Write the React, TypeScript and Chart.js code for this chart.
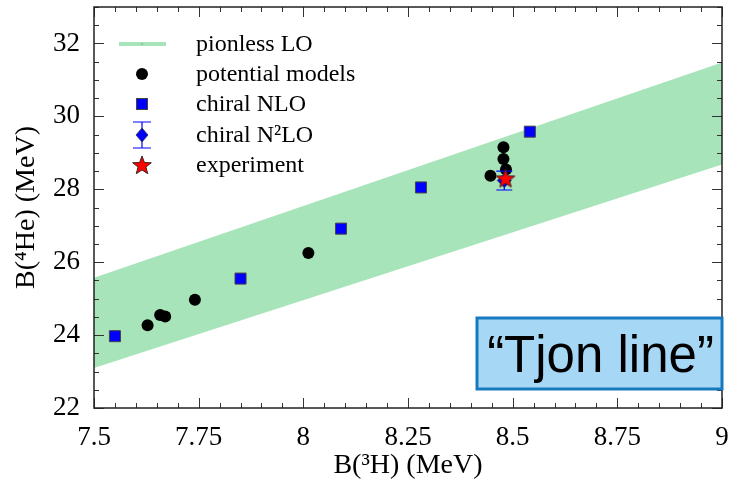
import { useEffect, useRef } from "react";
import { Chart, registerables } from "chart.js";

Chart.register(...registerables);

// ---- Data ----
const xTickValues = [7.5, 7.75, 8, 8.25, 8.5, 8.75, 9];
const xTickLabels = ["7.5", "7.75", "8", "8.25", "8.5", "8.75", "9"];
const yTickValues = [22, 24, 26, 28, 30, 32];
const yTickLabels = ["22", "24", "26", "28", "30", "32"];

const bandX = [7.5, 9];
const bandLower = [23.1, 28.68];
const bandUpper = [25.57, 31.48];

const potentialX = [7.628, 7.658, 7.67, 7.741, 8.012, 8.447, 8.478, 8.478, 8.484];
const potentialY = [24.27, 24.55, 24.51, 24.97, 26.25, 28.37, 29.15, 28.83, 28.54];

const nloX = [7.55, 7.85, 8.09, 8.281, 8.541];
const nloY = [23.97, 25.55, 26.92, 28.05, 29.58];

const n2loX = [8.48];
const n2loY = [28.24];
const n2loErr = [0.26];

const expX = [8.483];
const expY = [28.3];

const legendLabels = ["pionless LO", "potential models", "chiral NLO", "chiral N²LO", "experiment"];
const tjonText = "\u201CTjon line\u201D";

const BAND_COLOR = "rgb(168,228,186)";
const BLUE = "rgb(0,0,255)";
const SERIF = "'Liberation Serif', 'Times New Roman', serif";

function makeStar(size: number): HTMLCanvasElement {
  const c = document.createElement("canvas");
  c.width = size;
  c.height = size;
  const ctx = c.getContext("2d")!;
  const cx = size / 2;
  const cy = size / 2 + 0.8;
  const R = size / 2 - 1.2;
  const r = R * 0.42;
  ctx.beginPath();
  for (let i = 0; i < 10; i++) {
    const ang = -Math.PI / 2 + (i * Math.PI) / 5;
    const rad = i % 2 === 0 ? R : r;
    const px = cx + rad * Math.cos(ang);
    const py = cy + rad * Math.sin(ang);
    if (i === 0) ctx.moveTo(px, py);
    else ctx.lineTo(px, py);
  }
  ctx.closePath();
  ctx.fillStyle = "#ff0000";
  ctx.fill();
  ctx.lineWidth = 1;
  ctx.strokeStyle = "#402020";
  ctx.stroke();
  return c;
}

export default function App() {
  const ref = useRef<HTMLCanvasElement | null>(null);

  useEffect(() => {
    if (!ref.current) return;
    const star = makeStar(22);

    const framePlugin = {
      id: "frameTicks",
      afterDraw(chart: any) {
        const { ctx, chartArea } = chart;
        const xs = chart.scales.x;
        const ys = chart.scales.y;
        const { left, right, top, bottom } = chartArea;
        ctx.save();
        ctx.strokeStyle = "#333";
        ctx.lineWidth = 1;
        for (let i = 0; i <= 30; i++) {
          const v = 7.5 + i * 0.05;
          const px = Math.round(xs.getPixelForValue(v)) + 0.5;
          const len = i % 5 === 0 ? 10 : 5;
          ctx.beginPath();
          ctx.moveTo(px, bottom);
          ctx.lineTo(px, bottom - len);
          ctx.moveTo(px, top);
          ctx.lineTo(px, top + len);
          ctx.stroke();
        }
        for (let i = 0; i <= 22; i++) {
          const v = 22 + i * 0.5;
          const py = Math.round(ys.getPixelForValue(v)) + 0.5;
          const len = i % 4 === 0 ? 10 : 5;
          ctx.beginPath();
          ctx.moveTo(left, py);
          ctx.lineTo(left + len, py);
          ctx.moveTo(right, py);
          ctx.lineTo(right - len, py);
          ctx.stroke();
        }
        ctx.lineWidth = 1.5;
        ctx.strokeStyle = "#222";
        ctx.strokeRect(left, top, right - left, bottom - top);
        ctx.restore();

        // legend
        ctx.save();
        const mx = 142;
        const tx = 196;
        const rows = [44, 74, 104, 135, 165];
        ctx.strokeStyle = BAND_COLOR;
        ctx.lineWidth = 4;
        ctx.beginPath();
        ctx.moveTo(119, rows[0]);
        ctx.lineTo(166, rows[0]);
        ctx.stroke();
        ctx.fillStyle = "#3a7a4a";
        ctx.fillRect(mx - 0.5, rows[0] - 0.5, 1, 1);
        ctx.fillStyle = "#000";
        ctx.beginPath();
        ctx.arc(mx, rows[1], 6, 0, Math.PI * 2);
        ctx.fill();
        ctx.fillStyle = BLUE;
        ctx.strokeStyle = "#444";
        ctx.lineWidth = 1;
        ctx.fillRect(mx - 5.5, rows[2] - 5.5, 11, 11);
        ctx.strokeRect(mx - 5.5, rows[2] - 5.5, 11, 11);
        ctx.strokeStyle = BLUE;
        ctx.lineWidth = 1.2;
        ctx.beginPath();
        ctx.moveTo(mx, rows[3] - 13);
        ctx.lineTo(mx, rows[3] + 13);
        ctx.moveTo(mx - 9, rows[3] - 13);
        ctx.lineTo(mx + 9, rows[3] - 13);
        ctx.moveTo(mx - 9, rows[3] + 13);
        ctx.lineTo(mx + 9, rows[3] + 13);
        ctx.stroke();
        ctx.fillStyle = BLUE;
        ctx.strokeStyle = "#333";
        ctx.lineWidth = 0.8;
        ctx.beginPath();
        ctx.moveTo(mx, rows[3] - 7);
        ctx.lineTo(mx + 6, rows[3]);
        ctx.lineTo(mx, rows[3] + 7);
        ctx.lineTo(mx - 6, rows[3]);
        ctx.closePath();
        ctx.fill();
        ctx.stroke();
        ctx.drawImage(star, mx - 11, rows[4] - 11);
        ctx.fillStyle = "#000";
        ctx.font = `24px ${SERIF}`;
        ctx.textBaseline = "middle";
        ctx.textAlign = "left";
        legendLabels.forEach((t, i) => ctx.fillText(t, tx, rows[i] + 1));
        ctx.restore();

        // Tjon line box
        ctx.save();
        const bx = 477, by = 318, bw = 245, bh = 71;
        ctx.fillStyle = "rgb(166,216,246)";
        ctx.fillRect(bx, by, bw, bh);
        ctx.strokeStyle = "rgb(24,122,190)";
        ctx.lineWidth = 3;
        ctx.strokeRect(bx, by, bw, bh);
        ctx.fillStyle = "#000";
        ctx.font = `51px 'Liberation Sans', Arial, sans-serif`;
        ctx.textAlign = "center";
        ctx.textBaseline = "alphabetic";
        ctx.fillText(tjonText, bx + bw / 2 + 1, 372);
        ctx.restore();
      },
    };

    const errorPlugin = {
      id: "errorBars",
      afterDatasetDraw(chart: any, args: any) {
        const ds = chart.data.datasets[args.index];
        if (ds.label !== "chiral N²LO") return;
        const { ctx } = chart;
        const xs = chart.scales.x;
        const ys = chart.scales.y;
        ctx.save();
        ctx.strokeStyle = BLUE;
        ctx.lineWidth = 1.2;
        n2loX.forEach((x, i) => {
          const px = xs.getPixelForValue(x);
          const y1 = ys.getPixelForValue(n2loY[i] + n2loErr[i]);
          const y2 = ys.getPixelForValue(n2loY[i] - n2loErr[i]);
          ctx.beginPath();
          ctx.moveTo(px, y1);
          ctx.lineTo(px, y2);
          ctx.moveTo(px - 8, y1);
          ctx.lineTo(px + 8, y1);
          ctx.moveTo(px - 8, y2);
          ctx.lineTo(px + 8, y2);
          ctx.stroke();
        });
        ctx.restore();
      },
    };

    const chart = new Chart(ref.current, {
      type: "scatter",
      data: {
        datasets: [
          {
            label: "experiment",
            data: expX.map((x, i) => ({ x, y: expY[i] })),
            pointStyle: star as any,
            pointRadius: 11,
            order: 1,
          },
          {
            label: "chiral N²LO",
            data: n2loX.map((x, i) => ({ x, y: n2loY[i] })),
            pointStyle: "rectRot",
            pointRadius: 7,
            backgroundColor: BLUE,
            borderColor: "#333",
            borderWidth: 0.8,
            order: 2,
          },
          {
            label: "potential models",
            data: potentialX.map((x, i) => ({ x, y: potentialY[i] })),
            pointStyle: "circle",
            pointRadius: 6,
            backgroundColor: "#000",
            borderColor: "#000",
            borderWidth: 0,
            order: 4,
          },
          {
            label: "chiral NLO",
            data: nloX.map((x, i) => ({ x, y: nloY[i] })),
            pointStyle: "rect",
            pointRadius: 7.8,
            backgroundColor: BLUE,
            borderColor: "#444",
            borderWidth: 1,
            order: 3,
          },
          {
            type: "line",
            label: "band upper",
            data: bandX.map((x, i) => ({ x, y: bandUpper[i] })),
            borderWidth: 0,
            pointRadius: 0,
            fill: false,
            order: 10,
          } as any,
          {
            type: "line",
            label: "pionless LO",
            data: bandX.map((x, i) => ({ x, y: bandLower[i] })),
            borderWidth: 0,
            pointRadius: 0,
            backgroundColor: BAND_COLOR,
            fill: "-1",
            order: 9,
          } as any,
        ],
      },
      options: {
        animation: false,
        responsive: false,
        layout: { autoPadding: false, padding: { top: 7, right: 9, left: 0, bottom: 0 } },
        plugins: {
          legend: { display: false },
          tooltip: { enabled: false },
        },
        scales: {
          x: {
            type: "linear",
            min: 7.5,
            max: 9,
            grid: { display: false, drawTicks: false },
            border: { display: false },
            afterBuildTicks: (s: any) => {
              s.ticks = xTickValues.map((v) => ({ value: v }));
            },
            afterFit: (s: any) => {
              s.height = 75;
              s.paddingLeft = 0;
              s.paddingRight = 0;
            },
            ticks: {
              autoSkip: false,
              maxRotation: 0,
              padding: 14,
              color: "#000",
              font: { family: SERIF, size: 27 },
              callback: (v: any) => {
                const i = xTickValues.indexOf(Number(v));
                return i >= 0 ? xTickLabels[i] : "";
              },
            },
            title: {
              display: true,
              text: "B(³H) (MeV)",
              color: "#000",
              font: { family: SERIF, size: 28 },
              padding: { top: 0, bottom: 1 },
            },
          },
          y: {
            type: "linear",
            min: 22,
            max: 33,
            grid: { display: false, drawTicks: false },
            border: { display: false },
            afterBuildTicks: (s: any) => {
              s.ticks = yTickValues.map((v) => ({ value: v }));
            },
            afterFit: (s: any) => {
              s.width = 94;
              s.paddingTop = 0;
              s.paddingBottom = 0;
            },
            ticks: {
              autoSkip: false,
              padding: 14,
              color: "#000",
              font: { family: SERIF, size: 27 },
              callback: (v: any) => {
                const i = yTickValues.indexOf(Number(v));
                return i >= 0 ? yTickLabels[i] : "";
              },
            },
            title: {
              display: true,
              text: "B(⁴He) (MeV)",
              color: "#000",
              font: { family: SERIF, size: 28 },
              padding: { top: 10, bottom: 0 },
            },
          },
        },
      } as any,
      plugins: [errorPlugin, framePlugin],
    });

    return () => chart.destroy();
  }, []);

  return (
    <div style={{ position: "absolute", left: 0, top: 0, width: 731, height: 483, background: "#fff" }}>
      <canvas ref={ref} width={731} height={483} style={{ display: "block" }} />
    </div>
  );
}
